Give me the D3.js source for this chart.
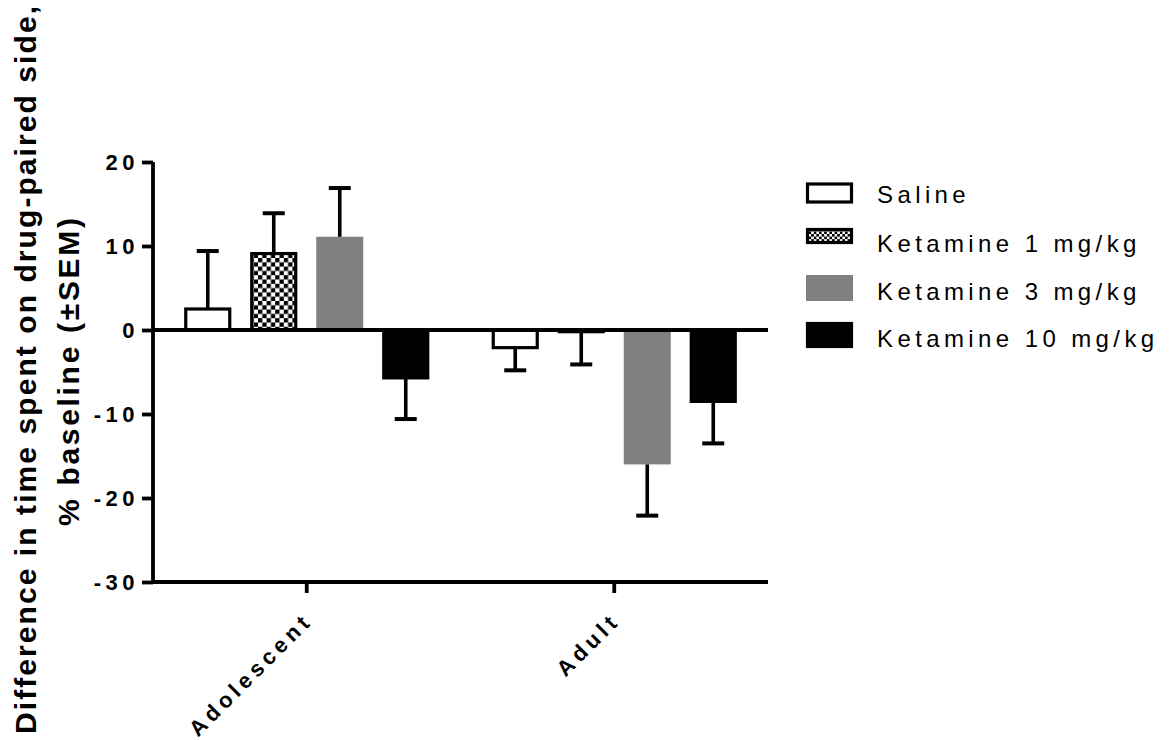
<!DOCTYPE html>
<html>
<head>
<meta charset="utf-8">
<title>Ketamine place preference</title>
<script src="https://cdnjs.cloudflare.com/ajax/libs/d3/7.8.5/d3.min.js"></script>
<style>
  body { margin: 0; background: #fff; }
  svg { font-family: "Liberation Sans", Arial, sans-serif; }
</style>
</head>
<body>
<div id="chart"></div>
<script>
// values
var groups = ["Adolescent", "Adult"];
var series = ["Saline", "Ketamine 1 mg/kg", "Ketamine 3 mg/kg", "Ketamine 10 mg/kg"];
var adolescentMean = [2.5, 9.1, 11.1, -5.7];
var adolescentSem = [6.9, 4.8, 5.8, 4.9];
var adultMean = [-2.1, -0.2, -16.0, -8.5];
var adultSem = [2.7, 3.9, 6.1, 5.0];
var yTicks = [-30, -20, -10, 0, 10, 20];

var means = [adolescentMean, adultMean];
var sems = [adolescentSem, adultSem];

var width = 1171, height = 740;
var plot = { left: 153, right: 768, top: 162, bottom: 582 };

var svg = d3.select("#chart").append("svg")
    .attr("width", width)
    .attr("height", height);

var defs = svg.append("defs");
function checker(id, s) {
  var p = defs.append("pattern")
      .attr("id", id)
      .attr("patternUnits", "userSpaceOnUse")
      .attr("width", s * 2).attr("height", s * 2);
  p.append("rect").attr("width", s * 2).attr("height", s * 2).attr("fill", "#fff");
  p.append("rect").attr("width", s).attr("height", s).attr("fill", "#000");
  p.append("rect").attr("x", s).attr("y", s).attr("width", s).attr("height", s).attr("fill", "#000");
}
checker("check", 4.3);
checker("checkSmall", 2.6);

var fills = ["#fff", "url(#check)", "#808080", "#000"];
var legendFills = ["#fff", "url(#checkSmall)", "#808080", "#000"];
var strokes = ["#000", "#000", "none", "#000"];

var y = d3.scaleLinear().domain([-30, 20]).range([plot.bottom, plot.top]);
var x0 = d3.scaleBand().domain(groups).range([plot.left, plot.right]);
var x1 = d3.scaleBand().domain(series).range([-122.5, 122.5]).paddingInner(0.288).paddingOuter(0);

// rows for drawing
var rows = [];
groups.forEach(function (g, gi) {
  series.forEach(function (s, si) {
    rows.push({ group: g, series: s, si: si, mean: means[gi][si], sem: sems[gi][si] });
  });
});

function cx(d) { return x0(d.group) + x0.bandwidth() / 2 + x1(d.series); }
function tip(d) { return y(d.mean + (d.mean >= 0 ? d.sem : -d.sem)); }

// bars
svg.selectAll(".bar")
    .data(rows)
    .enter().append("rect")
    .attr("class", "bar")
    .attr("x", function (d) { return cx(d) + (strokes[d.si] == "none" ? 0 : 1.5); })
    .attr("width", function (d) { return x1.bandwidth() - (strokes[d.si] == "none" ? 0 : 3); })
    .attr("y", function (d) { return Math.min(y(d.mean), y(0)); })
    .attr("height", function (d) { return Math.abs(y(d.mean) - y(0)); })
    .attr("fill", function (d) { return fills[d.si]; })
    .attr("stroke", function (d) { return strokes[d.si]; })
    .attr("stroke-width", 3.2);

// error bars, drawn away from zero only
var err = svg.selectAll(".err")
    .data(rows)
    .enter().append("g")
    .attr("class", "err");

err.append("line")
    .attr("x1", function (d) { return cx(d) + x1.bandwidth() / 2; })
    .attr("x2", function (d) { return cx(d) + x1.bandwidth() / 2; })
    .attr("y1", function (d) { return y(d.mean); })
    .attr("y2", tip)
    .attr("stroke", "#000")
    .attr("stroke-width", 3.6);

err.append("line")
    .attr("x1", function (d) { return cx(d) + x1.bandwidth() / 2 - 11; })
    .attr("x2", function (d) { return cx(d) + x1.bandwidth() / 2 + 11; })
    .attr("y1", tip)
    .attr("y2", tip)
    .attr("stroke", "#000")
    .attr("stroke-width", 4);

// zero line
svg.append("line")
    .attr("x1", plot.left).attr("x2", plot.right)
    .attr("y1", y(0)).attr("y2", y(0))
    .attr("stroke", "#000")
    .attr("stroke-width", 3.8);

// y axis
var yAxis = svg.append("g")
    .attr("transform", "translate(" + plot.left + ",0)")
    .call(d3.axisLeft(y).tickValues(yTicks).tickSize(11).tickPadding(3)
      .tickFormat(function (d) { return String(d); }));
yAxis.select(".domain").attr("stroke-width", 3.8).attr("d", "M0," + plot.top + "V" + plot.bottom);
yAxis.selectAll(".tick line").attr("stroke-width", 3.8);
yAxis.selectAll(".tick text")
    .attr("font-size", 22)
    .attr("font-weight", "bold")
    .attr("fill", "#000")
    .style("letter-spacing", "4.5px")
    .attr("font-family", "Liberation Sans, Arial, sans-serif");

// x axis
var xAxis = svg.append("g")
    .attr("transform", "translate(0," + plot.bottom + ")")
    .call(d3.axisBottom(x0).tickSize(11).tickFormat(""));
xAxis.select(".domain").attr("stroke-width", 3.8).attr("d", "M" + plot.left + ",0H" + plot.right);
xAxis.selectAll(".tick line").attr("stroke-width", 3.8);

svg.selectAll(".cat")
    .data(groups)
    .enter().append("text")
    .attr("class", "cat")
    .attr("transform", function (d) {
      return "translate(" + (x0(d) + x0.bandwidth() / 2 + 7) + "," + (plot.bottom + 40) + ") rotate(-45)";
    })
    .attr("text-anchor", "end")
    .attr("font-size", 22)
    .attr("font-weight", "bold")
    .style("letter-spacing", "4.5px")
    .text(function (d) { return d; });

// y title, two lines
svg.append("text")
    .attr("transform", "translate(36,370) rotate(-90)")
    .attr("text-anchor", "middle")
    .attr("font-size", 30)
    .attr("font-weight", "bold")
    .attr("textLength", 728)
    .attr("lengthAdjust", "spacing")
    .text("Difference in time spent on drug-paired side,");

svg.append("text")
    .attr("transform", "translate(79,372) rotate(-90)")
    .attr("text-anchor", "middle")
    .attr("font-size", 30)
    .attr("font-weight", "bold")
    .attr("textLength", 308)
    .attr("lengthAdjust", "spacing")
    .text("% baseline (\u00B1SEM)");

// legend
var legendY = [193, 236, 288, 335];
var legendH = [21, 16, 26, 26];
var lg = svg.selectAll(".legend")
    .data(series)
    .enter().append("g")
    .attr("class", "legend");

lg.append("rect")
    .attr("x", function (d, i) { return strokes[i] == "none" ? 806 : 807.5; })
    .attr("width", function (d, i) { return strokes[i] == "none" ? 47 : 44; })
    .attr("y", function (d, i) { return legendY[i] - legendH[i] / 2 + (strokes[i] == "none" ? 0 : 1.5); })
    .attr("height", function (d, i) { return legendH[i] - (strokes[i] == "none" ? 0 : 3); })
    .attr("fill", function (d, i) { return legendFills[i]; })
    .attr("stroke", function (d, i) { return strokes[i]; })
    .attr("stroke-width", 3.2);

lg.append("text")
    .attr("x", 877)
    .attr("y", function (d, i) { return [203, 252, 300, 347][i]; })
    .attr("font-size", 24)
    .style("letter-spacing", "4.4px")
    .text(function (d) { return d; });
</script>
</body>
</html>
